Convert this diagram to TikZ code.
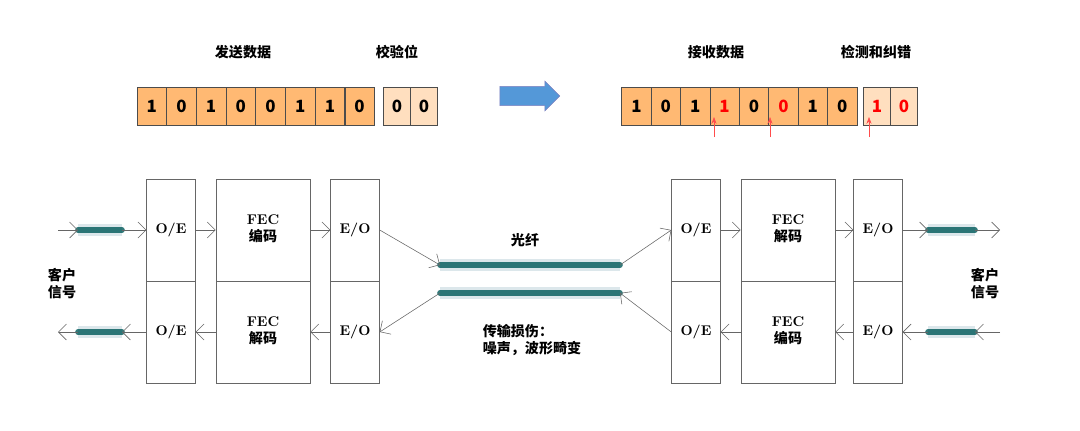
\documentclass[tikz,border=0pt]{standalone}
\usepackage{fontspec}
\newfontfamily\cjk{Noto Sans CJK SC}
\usetikzlibrary{arrows.meta, shapes.arrows, positioning}
\tikzstyle{bit} = [rectangle, minimum width=0.74cm, minimum height=0.95cm, draw=black!70, fill=orange!55, font=\cjk\bfseries\large, inner sep=0pt]
\tikzstyle{chk} = [bit, minimum width=0.68cm, fill=orange!25]
\tikzstyle{half} = [rectangle, minimum width=1.22cm, minimum height=2.55cm, draw=black!60, fill=white, font=\bfseries]
\tikzstyle{fecbox} = [half, minimum width=2.35cm]
\tikzstyle{cable} = [line width=4pt, draw=teal!70!black, line cap=round, opacity=.8,
    preaction={draw=cyan!30!gray!40, line width=9pt, opacity=.6}]
\tikzstyle{arrow} = [->, >={Straight Barb[length=2mm]}, draw=black!60]
\tikzstyle{lbl} = [font=\cjk\bfseries]

\begin{document}
\begin{tikzpicture}[x=0.025cm, y=-0.025cm]
    \useasboundingbox (0,0) rectangle (1080,430);

    % bit rows
    \foreach \b [count=\i] in {1,0,1,0,0,1,1,0}
        \node (s\i) [bit] at (122+\i*29.7, 106) {\b};
    \node (sc1) [chk] at (397, 106) {0};
    \node (sc2) [chk] at (424, 106) {0};
    \node [lbl] at (243, 52) {发送数据};
    \node [lbl] at (397, 52) {校验位};

    \node (go) [single arrow, fill=cyan!60!blue!70, draw=blue!50!black!50, minimum height=1.5cm, minimum width=0.75cm, single arrow head extend=2pt] at (525, 96) {};

    \foreach \b/\c [count=\i] in {1/black,0/black,1/black,1/red,0/black,0/red,1/black,0/black}
        \node (r\i) [bit, text=\c] at (607+\i*29.4, 106) {\b};
    \node (rc1) [chk, text=red] at (877, 106) {1};
    \node (rc2) [chk, text=red] at (904, 106) {0};
    \node [lbl] at (716, 52) {接收数据};
    \node [lbl] at (876, 52) {检测和纠错};
    \draw [->, red!70, >=Stealth] (714, 137) -- (714, 117);
    \draw [->, red!70, >=Stealth] (770, 137) -- (770, 117);
    \draw [->, red!70, >=Stealth] (869, 137) -- (869, 117);

    % left terminal
    \node (oe1) [half] at (171, 230) {O/E};
    \node (oe2) [half] at (171, 332) {O/E};
    \node (enc1) [fecbox] at (263, 230) {\begin{tabular}{c} FEC \\ \cjk 编码 \end{tabular}};
    \node (dec1) [fecbox] at (263, 332) {\begin{tabular}{c} FEC \\ \cjk 解码 \end{tabular}};
    \node (eo1) [half] at (355, 230) {E/O};
    \node (eo2) [half] at (355, 332) {E/O};

    % right terminal
    \node (oe3) [half] at (696, 230) {O/E};
    \node (oe4) [half] at (696, 332) {O/E};
    \node (dec2) [fecbox] at (788, 230) {\begin{tabular}{c} FEC \\ \cjk 解码 \end{tabular}};
    \node (enc2) [fecbox] at (788, 332) {\begin{tabular}{c} FEC \\ \cjk 编码 \end{tabular}};
    \node (eo3) [half] at (878, 230) {E/O};
    \node (eo4) [half] at (878, 332) {E/O};

    % cables and fibres
    \coordinate (ca) at (78, 230);  \coordinate (cb) at (122, 230);
    \coordinate (cc) at (78, 332);  \coordinate (cd) at (122, 332);
    \coordinate (ce) at (928, 230); \coordinate (cf) at (975, 230);
    \coordinate (cg) at (928, 332); \coordinate (ch) at (975, 332);
    \coordinate (fa) at (440, 265); \coordinate (fb) at (620, 265);
    \coordinate (fc) at (440, 293); \coordinate (fd) at (620, 293);
    \coordinate (in1) at (58, 230);  \coordinate (out1) at (58, 332);
    \coordinate (out2) at (1000, 230); \coordinate (in2) at (1000, 332);
    \draw [cable] (ca) -- (cb);
    \draw [cable] (cc) -- (cd);
    \draw [cable] (ce) -- (cf);
    \draw [cable] (cg) -- (ch);
    \draw [cable] (fa) -- (fb);
    \draw [cable] (fc) -- (fd);

    \node [lbl] at (62, 285) {\begin{tabular}{c} 客户 \\ 信号 \end{tabular}};
    \node [lbl] at (985, 285) {\begin{tabular}{c} 客户 \\ 信号 \end{tabular}};
    \node [lbl] at (525, 240) {光纤};
    \node [lbl, align=left] at (532, 340) {传输损伤：\\噪声，波形畸变};

    \draw [arrow] (in1) -- (ca);
    \draw [arrow] (cb) -- (oe1);
    \draw [arrow] (oe1) -- (enc1);
    \draw [arrow] (enc1) -- (eo1);
    \draw [arrow] (eo1.east) -- (fa);
    \draw [arrow] (fc) -- (eo2.east);
    \draw [arrow] (eo2) -- (dec1);
    \draw [arrow] (dec1) -- (oe2);
    \draw [arrow] (oe2) -- (cd);
    \draw [arrow] (cc) -- (out1);

    \draw [arrow] (fb) -- (oe3.west);
    \draw [arrow] (oe3) -- (dec2);
    \draw [arrow] (dec2) -- (eo3);
    \draw [arrow] (eo3) -- (ce);
    \draw [arrow] (cf) -- (out2);
    \draw [arrow] (in2) -- (ch);
    \draw [arrow] (cg) -- (eo4);
    \draw [arrow] (eo4) -- (enc2);
    \draw [arrow] (enc2) -- (oe4);
    \draw [arrow] (oe4.west) -- (fd);

\end{tikzpicture}
\end{document}
